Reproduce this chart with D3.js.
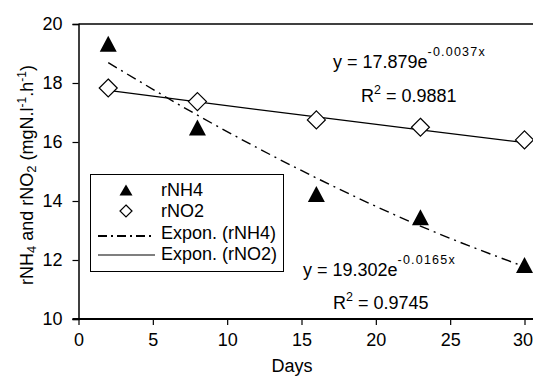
<!DOCTYPE html>
<html>
<head>
<meta charset="utf-8">
<script src="https://cdn.jsdelivr.net/npm/d3@7"></script>
<style>
  body { margin: 0; background: #fff; }
  svg { display: block; font-family: "Liberation Sans", Arial, sans-serif; }
</style>
</head>
<body>
<div class="chart-container"></div>
<script>
const width = 533;
const height = 377;

// data
const days = [2, 8, 16, 23, 30];
const rNH4 = [19.33, 16.49, 14.24, 13.45, 11.83];
const rNO2 = [17.83, 17.37, 16.75, 16.50, 16.07];
// fitted (trend line) values at the same days
const trendNH4 = [18.69, 16.91, 14.78, 13.15, 11.77];
const trendNO2 = [17.75, 17.36, 16.85, 16.41, 15.98];

const xTicks = [0, 5, 10, 15, 20, 25, 30];
const yTicks = [10, 12, 14, 16, 18, 20];
const legendLabels = ["rNH4", "rNO2", "Expon. (rNH4)", "Expon. (rNO2)"];

const fontSize = '18px';

const x = d3.scaleLinear().domain([0, 30]).range([78.5, 524.5]);
const y = d3.scaleLinear().domain([10, 20]).range([319, 24]);

const svg = d3.select('.chart-container').append('svg')
    .attr('width', width)
    .attr('height', height);

// top frame line (the plot area runs off the right edge)
svg.append('line')
    .attr('x1', x(0)).attr('x2', width)
    .attr('y1', y(20)).attr('y2', y(20))
    .attr('stroke', 'black')
    .attr('stroke-width', 1.5);

// y axis
const yAxis = svg.append('g')
    .attr('transform', `translate(${x(0)},0)`)
    .call(d3.axisLeft(y).tickValues(yTicks).tickSize(6).tickPadding(10));
yAxis.select('.domain').attr('stroke-width', 1.5);

// x axis
const xAxis = svg.append('g')
    .attr('transform', `translate(0,${y(10)})`)
    .call(d3.axisBottom(x).tickValues(xTicks).tickSize(6).tickPadding(8));
xAxis.select('.domain').remove();
xAxis.append('line')
    .attr('x1', x(0) - 6).attr('x2', width)
    .attr('stroke', 'black')
    .attr('stroke-width', 2);

svg.selectAll('.tick text')
    .attr('font-size', fontSize)
    .attr('font-family', '"Liberation Sans", Arial, sans-serif')
    .attr('fill', 'black');
svg.selectAll('.tick line').attr('stroke-width', 1.2);
// keep the last label inside the picture
xAxis.selectAll('.tick text').filter(d => d === 30).attr('dx', -2);

// axis titles
svg.append('text')
    .attr('x', 292)
    .attr('y', 372)
    .attr('text-anchor', 'middle')
    .attr('font-size', fontSize)
    .text('Days');

const yTitle = svg.append('text')
    .attr('transform', 'translate(33,175) rotate(-90)')
    .attr('text-anchor', 'middle')
    .attr('font-size', fontSize);
yTitle.append('tspan').text('rNH');
yTitle.append('tspan').attr('font-size', '13px').attr('dy', 3).text('4');
yTitle.append('tspan').attr('dy', -3).text(' and rNO');
yTitle.append('tspan').attr('font-size', '13px').attr('dy', 3).text('2');
yTitle.append('tspan').attr('dy', -3).text(' (mgN.l');
yTitle.append('tspan').attr('font-size', '12px').attr('dy', -7).text('-1');
yTitle.append('tspan').attr('dy', 7).text('.h');
yTitle.append('tspan').attr('font-size', '12px').attr('dy', -7).text('-1');
yTitle.append('tspan').attr('dy', 7).text(')');

// trend lines
const trendLine = d3.line()
    .x((d, i) => x(days[i]))
    .y(d => y(d))
    .curve(d3.curveMonotoneX);

svg.append('path')
    .attr('d', trendLine(trendNO2))
    .attr('fill', 'none')
    .attr('stroke', 'black')
    .attr('stroke-width', 1.2);

svg.append('path')
    .attr('d', trendLine(trendNH4))
    .attr('fill', 'none')
    .attr('stroke', 'black')
    .attr('stroke-width', 1.4)
    .attr('stroke-dasharray', '10,5,2,5');

// markers
function trianglePath(cx, cy, w, h) {
    return `M${cx},${cy - h / 2}L${cx + w / 2},${cy + h / 2}L${cx - w / 2},${cy + h / 2}Z`;
}
function diamondPath(cx, cy, w, h) {
    return `M${cx},${cy - h / 2}L${cx + w / 2},${cy}L${cx},${cy + h / 2}L${cx - w / 2},${cy}Z`;
}

svg.selectAll('.nh4')
    .data(rNH4)
    .enter()
    .append('path')
    .attr('class', 'nh4')
    .attr('d', (d, i) => trianglePath(x(days[i]), y(d), 17, 16))
    .attr('fill', 'black');

svg.selectAll('.no2')
    .data(rNO2)
    .enter()
    .append('path')
    .attr('class', 'no2')
    .attr('d', (d, i) => diamondPath(x(days[i]), y(d), 18, 18))
    .attr('fill', 'white')
    .attr('stroke', 'black')
    .attr('stroke-width', 1.2);

// equations
function equation(xPos, yPos, main, sup) {
    const t = svg.append('text')
        .attr('x', xPos)
        .attr('y', yPos)
        .attr('font-size', fontSize);
    t.append('tspan').text(main);
    t.append('tspan')
        .attr('font-size', '12.5px')
        .attr('letter-spacing', '1.2px')
        .attr('dy', -12)
        .text(sup);
}
function rSquared(xPos, yPos, value) {
    const t = svg.append('text')
        .attr('x', xPos)
        .attr('y', yPos)
        .attr('font-size', fontSize);
    t.append('tspan').text('R');
    t.append('tspan').attr('font-size', '12.5px').attr('dy', -8).text('2');
    t.append('tspan').attr('dy', 8).text(' = ' + value);
}

equation(333, 68, 'y = 17.879e', '-0.0037x');
rSquared(361, 102, '0.9881');
equation(303, 276, 'y = 19.302e', '-0.0165x');
rSquared(333, 309, '0.9745');

// legend
const legend = svg.append('g');
legend.append('rect')
    .attr('x', 90.5)
    .attr('y', 174.5)
    .attr('width', 193)
    .attr('height', 97)
    .attr('fill', 'white')
    .attr('stroke', 'black')
    .attr('stroke-width', 1);

const rowY = [190, 211, 233, 254];

legend.append('path')
    .attr('d', trianglePath(126, rowY[0], 13, 11))
    .attr('fill', 'black');
legend.append('path')
    .attr('d', diamondPath(126, rowY[1], 12, 12))
    .attr('fill', 'white')
    .attr('stroke', 'black')
    .attr('stroke-width', 1.2);
legend.append('line')
    .attr('x1', 98).attr('x2', 155)
    .attr('y1', rowY[2] + 3).attr('y2', rowY[2] + 3)
    .attr('stroke', 'black')
    .attr('stroke-width', 1.8)
    .attr('stroke-dasharray', '9,4,2,4');
legend.append('line')
    .attr('x1', 98).attr('x2', 155)
    .attr('y1', rowY[3] + 1).attr('y2', rowY[3] + 1)
    .attr('stroke', 'black')
    .attr('stroke-width', 1.2);

legend.selectAll('.legend-label')
    .data(legendLabels)
    .enter()
    .append('text')
    .attr('class', 'legend-label')
    .attr('x', 161)
    .attr('y', (d, i) => rowY[i] + 6)
    .attr('font-size', fontSize)
    .text(d => d);
</script>
</body>
</html>
